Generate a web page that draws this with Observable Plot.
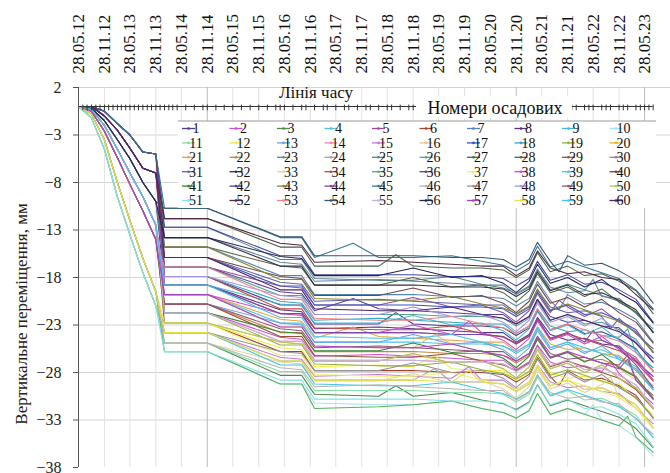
<!DOCTYPE html>
<html><head><meta charset="utf-8">
<script src="https://cdn.jsdelivr.net/npm/d3@7"></script>
<script src="https://cdn.jsdelivr.net/npm/@observablehq/plot@0.6"></script>
<style>
body{margin:0;background:#fff;}
svg{display:block}
svg text, svg tspan{font-family:'Liberation Serif','Times New Roman',serif !important;}
</style>
</head><body><div id="chart"></div>
<script>
// Measurement dates (key points) shared by all settlement marks
const keyDates = ["2012-05-28","2012-08-28","2012-11-28","2013-02-28","2013-05-28","2013-08-28","2013-11-28","2014-01-28","2014-11-28","2016-04-28","2016-09-28","2016-12-28","2018-03-28","2018-11-28","2019-08-28","2020-03-28","2020-08-28","2020-11-28","2021-02-28","2021-04-28","2021-07-28","2021-11-28","2022-03-28","2022-07-28","2022-11-28","2023-03-28","2023-07-28"];

// Vertical displacement (mm) of settlement marks 1..60 at keyDates
const seriesValues = [
[0,0,-0.5,-1.8,-3.0,-4.8,-5.0,-17.9,-17.9,-20.9,-20.9,-22.9,-22.9,-22.9,-23.1,-23.1,-23.3,-24.1,-23.3,-21.5,-23.5,-22.9,-23.9,-23.7,-24.5,-25.5,-27.9],
[0,-0.3,-2.0,-4.5,-7.0,-9.5,-12.5,-21.7,-21.7,-24.3,-24.5,-26.3,-26.1,-26.3,-26.5,-26.7,-26.7,-27.7,-26.9,-25.1,-26.9,-27.5,-27.3,-27.9,-28.1,-29.7,-31.3],
[0,-0.8,-3.5,-8.0,-12.0,-16.0,-19.5,-24.9,-24.9,-28.3,-28.3,-30.3,-30.5,-30.5,-30.1,-30.9,-31.3,-31.9,-31.1,-29.3,-31.5,-30.9,-31.5,-32.1,-32.7,-33.9,-35.9],
[0,-0.5,-2.6,-5.4,-8.2,-11.0,-14.0,-19.8,-19.8,-22.8,-22.8,-24.8,-24.8,-24.8,-25.0,-25.0,-25.2,-26.0,-25.2,-23.4,-25.4,-24.8,-25.8,-25.6,-26.4,-27.4,-29.8],
[0,0,-1.0,-2.5,-4.4,-6.5,-7.0,-16.9,-16.9,-18.9,-19.1,-20.9,-20.9,-20.1,-21.1,-20.9,-21.7,-22.7,-21.5,-19.7,-21.7,-21.1,-22.1,-21.3,-22.7,-23.7,-25.9],
[0,-0.3,-2.0,-4.5,-7.0,-9.5,-12.5,-22.8,-22.8,-25.8,-25.8,-27.8,-27.8,-27.8,-28.0,-28.0,-28.2,-29.0,-28.2,-26.4,-28.4,-27.8,-28.8,-28.6,-29.4,-30.4,-32.8],
[0,0,-0.5,-1.8,-3.0,-4.8,-5.0,-14.8,-14.8,-17.8,-17.8,-19.8,-19.8,-19.8,-20.0,-20.0,-20.2,-21.0,-20.2,-18.4,-20.4,-19.8,-20.8,-20.6,-21.4,-22.4,-24.8],
[0,-0.2,-1.5,-3.5,-5.5,-8.0,-10.0,-18.8,-18.8,-21.4,-21.6,-23.4,-23.2,-23.4,-23.6,-23.8,-23.8,-24.8,-24.0,-22.2,-24.0,-24.6,-24.4,-25.0,-25.2,-26.8,-28.4],
[0,-0.5,-2.6,-5.4,-8.2,-11.0,-14.0,-18.8,-18.8,-20.8,-21.0,-22.8,-22.8,-22.0,-23.0,-22.8,-23.6,-24.6,-23.4,-21.6,-23.6,-23.0,-24.0,-23.2,-24.6,-25.6,-27.8],
[0,-1.2,-4.5,-9.5,-13.5,-17.5,-21.0,-25.8,-25.8,-29.2,-29.2,-31.2,-31.4,-31.4,-31.0,-31.8,-32.2,-32.8,-32.0,-30.2,-32.4,-31.8,-32.4,-33.0,-33.6,-34.8,-36.8],
[0,-0.8,-3.5,-8.0,-12.0,-16.0,-19.5,-24.9,-24.9,-27.9,-27.9,-29.9,-29.9,-29.9,-30.1,-30.1,-30.3,-31.1,-30.3,-28.5,-30.5,-29.9,-30.9,-30.7,-31.5,-32.5,-34.9],
[0,-1.2,-4.5,-9.5,-13.5,-17.5,-21.0,-22.8,-22.8,-25.4,-25.6,-27.4,-27.2,-27.4,-27.6,-27.8,-27.8,-28.8,-28.0,-26.2,-28.0,-28.6,-28.4,-29.0,-29.2,-30.8,-32.4],
[0,-0.3,-2.0,-4.5,-7.0,-9.5,-12.5,-20.8,-20.8,-22.8,-23.0,-24.8,-24.8,-24.0,-25.0,-24.8,-25.6,-26.6,-25.4,-23.6,-25.6,-25.0,-26.0,-25.2,-26.6,-27.6,-29.8],
[0,-0.5,-2.6,-5.4,-8.2,-11.0,-14.0,-21.7,-21.7,-24.7,-24.7,-26.7,-26.7,-26.7,-26.9,-26.9,-27.1,-27.9,-27.1,-25.3,-27.3,-26.7,-27.7,-27.5,-28.3,-29.3,-31.7],
[0,-0.8,-3.5,-8.0,-12.0,-16.0,-19.5,-23.8,-23.8,-26.4,-26.6,-28.4,-28.2,-28.4,-28.6,-28.8,-28.8,-29.8,-29.0,-27.2,-29.0,-29.6,-29.4,-30.0,-30.2,-31.8,-33.4],
[0,-0.3,-2.0,-4.5,-7.0,-9.5,-12.5,-19.8,-19.8,-23.2,-23.2,-25.2,-25.4,-25.4,-25.0,-25.8,-26.2,-26.8,-26.0,-24.2,-26.4,-25.8,-26.4,-27.0,-27.6,-28.8,-30.8],
[0,0,-1.0,-2.5,-4.4,-6.5,-7.0,-15.9,-15.9,-18.9,-18.9,-20.9,-20.9,-20.9,-21.1,-21.1,-21.3,-22.1,-21.3,-19.5,-21.5,-20.9,-21.9,-21.7,-22.5,-23.5,-25.9],
[0,-0.5,-2.6,-5.4,-8.2,-11.0,-14.0,-17.9,-17.9,-20.5,-20.7,-22.5,-22.3,-22.5,-22.7,-22.9,-22.9,-23.9,-23.1,-21.3,-23.1,-23.7,-23.5,-24.1,-24.3,-25.9,-27.5],
[0,-0.3,-2.0,-4.5,-7.0,-9.5,-12.5,-21.7,-21.7,-25.1,-25.1,-27.1,-27.3,-27.3,-26.9,-27.7,-28.1,-28.7,-27.9,-26.1,-28.3,-27.7,-28.3,-28.9,-29.5,-30.7,-32.7],
[0,-0.8,-3.5,-8.0,-12.0,-16.0,-19.5,-22.8,-22.8,-24.8,-25.0,-26.8,-26.8,-26.0,-27.0,-26.8,-27.6,-28.6,-27.4,-25.6,-27.6,-27.0,-28.0,-27.2,-28.6,-29.6,-31.8],
[0,-0.5,-2.6,-5.4,-8.2,-11.0,-14.0,-19.8,-19.8,-22.4,-22.6,-24.4,-24.2,-24.4,-24.6,-24.8,-24.8,-25.8,-25.0,-23.2,-25.0,-25.6,-25.4,-26.0,-26.2,-27.8,-29.4],
[0,-0.3,-2.0,-4.5,-7.0,-9.5,-12.5,-20.8,-20.8,-23.8,-23.8,-25.8,-25.8,-25.8,-26.0,-26.0,-26.2,-27.0,-26.2,-24.4,-26.4,-25.8,-26.8,-26.6,-27.4,-28.4,-30.8],
[0,0,-0.5,-1.8,-3.0,-4.8,-5.0,-13.8,-13.8,-16.4,-16.6,-18.4,-18.2,-18.4,-18.6,-18.8,-18.8,-19.8,-19.0,-17.2,-19.0,-19.6,-19.4,-20.0,-20.2,-21.8,-23.4],
[0,-1.2,-4.5,-9.5,-13.5,-17.5,-21.0,-23.8,-23.8,-26.8,-26.8,-28.8,-28.8,-28.8,-29.0,-29.0,-29.2,-30.0,-29.2,-27.4,-29.4,-28.8,-29.8,-29.6,-30.4,-31.4,-33.8],
[0,0,-1.0,-2.5,-4.4,-6.5,-7.0,-12.7,-12.7,-16.1,-16.1,-18.1,-18.3,-18.3,-17.9,-18.7,-19.1,-19.7,-18.9,-17.1,-19.3,-18.7,-19.3,-19.9,-20.5,-21.7,-23.7],
[0,-0.2,-1.5,-3.5,-5.5,-8.0,-10.0,-16.9,-16.9,-19.9,-19.9,-21.9,-21.9,-21.9,-22.1,-22.1,-22.3,-23.1,-22.3,-20.5,-22.5,-21.9,-22.9,-22.7,-23.5,-24.5,-26.9],
[0,0,-0.5,-1.8,-3.0,-4.8,-5.0,-11.8,-11.8,-14.8,-14.8,-16.8,-16.8,-16.8,-17.0,-17.0,-17.2,-18.0,-17.2,-15.4,-17.4,-16.8,-17.8,-17.6,-18.4,-19.4,-21.8],
[0,0,-1.0,-2.5,-4.4,-6.5,-7.0,-14.8,-14.8,-16.8,-17.0,-18.8,-18.8,-18.0,-19.0,-18.8,-19.6,-20.6,-19.4,-17.6,-19.6,-19.0,-20.0,-19.2,-20.6,-21.6,-23.8],
[0,-0.5,-2.6,-5.4,-8.2,-11.0,-14.0,-20.8,-20.8,-24.2,-24.2,-26.2,-26.4,-26.4,-26.0,-26.8,-27.2,-27.8,-27.0,-25.2,-27.4,-26.8,-27.4,-28.0,-28.6,-29.8,-31.8],
[0,-0.3,-2.0,-4.5,-7.0,-9.5,-12.5,-18.8,-18.8,-21.8,-21.8,-23.8,-23.8,-23.8,-24.0,-24.0,-24.2,-25.0,-24.2,-22.4,-24.4,-23.8,-24.8,-24.6,-25.4,-26.4,-28.8],
[0,-0.2,-1.5,-3.5,-5.5,-8.0,-10.0,-15.9,-15.9,-18.5,-18.7,-20.5,-20.3,-20.5,-20.7,-20.9,-20.9,-21.9,-21.1,-19.3,-21.1,-21.7,-21.5,-22.1,-22.3,-23.9,-25.5],
[0,0,-1.0,-2.5,-4.4,-6.5,-7.0,-13.8,-13.8,-16.8,-16.8,-18.8,-18.8,-18.8,-19.0,-19.0,-19.2,-20.0,-19.2,-17.4,-19.4,-18.8,-19.8,-19.6,-20.4,-21.4,-23.8],
[0,-1.2,-4.5,-9.5,-13.5,-17.5,-21.0,-24.9,-24.9,-26.9,-27.1,-28.9,-28.9,-28.1,-29.1,-28.9,-29.7,-30.7,-29.5,-27.7,-29.7,-29.1,-30.1,-29.3,-30.7,-31.7,-33.9],
[0,0,-0.5,-1.8,-3.0,-4.8,-5.0,-17.9,-17.9,-21.3,-21.3,-23.3,-23.5,-23.5,-23.1,-23.9,-24.3,-24.9,-24.1,-22.3,-24.5,-23.9,-24.5,-25.1,-25.7,-26.9,-28.9],
[0,-0.8,-3.5,-8.0,-12.0,-16.0,-19.5,-25.8,-25.8,-29.2,-29.2,-31.8,-31.6,-31.4,-31.0,-31.8,-32.2,-32.8,-32.0,-30.2,-32.4,-31.8,-32.4,-33.0,-33.6,-34.8,-36.4],
[0,0,-1.0,-2.5,-4.4,-6.5,-7.0,-16.9,-16.9,-19.5,-19.7,-21.5,-21.3,-21.5,-21.7,-21.9,-21.9,-22.9,-22.1,-20.3,-22.1,-22.7,-22.5,-23.1,-23.3,-24.9,-26.5],
[0,-0.8,-3.5,-8.0,-12.0,-16.0,-19.5,-22.8,-22.8,-26.2,-26.2,-28.2,-28.4,-28.4,-28.0,-28.8,-29.2,-29.8,-29.0,-27.2,-29.4,-28.8,-29.4,-30.0,-30.6,-31.8,-33.8],
[0,-0.3,-2.0,-4.5,-7.0,-9.5,-12.5,-19.8,-19.8,-21.8,-22.0,-23.8,-23.8,-23.0,-24.0,-23.8,-24.6,-25.6,-24.4,-22.6,-24.6,-24.0,-25.0,-24.2,-25.6,-26.6,-28.8],
[0,-1.2,-4.5,-9.5,-13.5,-17.5,-21.0,-23.8,-23.8,-27.2,-27.2,-29.2,-29.4,-29.4,-29.0,-29.8,-30.2,-30.8,-30.0,-28.2,-30.4,-29.8,-30.4,-31.0,-31.6,-32.8,-34.8],
[0,0,-0.5,-1.8,-3.0,-4.8,-5.0,-15.9,-15.9,-17.9,-18.1,-19.9,-19.9,-19.1,-20.1,-19.9,-20.7,-21.7,-20.5,-18.7,-20.7,-20.1,-21.1,-20.3,-21.7,-22.7,-24.9],
[0,-0.5,-2.6,-5.4,-8.2,-11.0,-14.0,-21.7,-21.7,-23.7,-23.9,-25.7,-25.7,-24.9,-25.9,-25.7,-26.5,-27.5,-26.3,-24.5,-26.5,-25.9,-26.9,-26.1,-27.5,-28.5,-30.7],
[0,0,-0.5,-1.8,-3.0,-4.8,-5.0,-12.7,-12.7,-15.7,-15.7,-17.7,-17.7,-17.7,-17.9,-17.9,-18.1,-18.9,-18.1,-16.3,-18.3,-17.7,-18.7,-18.5,-19.3,-20.3,-22.7],
[0,-0.2,-1.5,-3.5,-5.5,-8.0,-10.0,-14.8,-14.8,-18.2,-18.2,-20.2,-20.4,-20.4,-20.0,-20.8,-21.2,-21.8,-21.0,-19.2,-21.4,-20.8,-21.4,-22.0,-22.6,-23.8,-25.8],
[0,0,-1.0,-2.5,-4.4,-6.5,-7.0,-18.8,-18.8,-21.8,-21.8,-23.8,-23.8,-23.8,-24.0,-24.0,-24.2,-25.0,-24.2,-22.4,-24.4,-23.8,-24.8,-24.6,-25.4,-27.2,-29.6],
[0,0,-0.5,-1.8,-3.0,-4.8,-5.0,-10.7,-10.7,-13.8,-13.8,-15.9,-15.9,-15.9,-15.7,-16.3,-16.7,-17.3,-16.5,-14.7,-16.9,-16.3,-16.9,-17.5,-18.1,-19.3,-21.3],
[0,-0.8,-3.5,-8.0,-12.0,-16.0,-19.5,-24.9,-24.9,-27.5,-27.7,-29.5,-29.3,-29.5,-29.7,-29.9,-29.9,-30.9,-30.1,-28.3,-30.1,-30.7,-30.5,-31.1,-31.3,-32.9,-34.5],
[0,-0.8,-3.5,-8.0,-12.0,-16.0,-19.5,-23.8,-23.8,-25.8,-26.0,-27.8,-27.8,-27.0,-28.0,-27.8,-28.6,-29.6,-28.4,-26.6,-28.6,-28.0,-29.0,-28.2,-29.6,-30.6,-32.8],
[0,-0.3,-2.0,-4.5,-7.0,-9.5,-12.5,-17.9,-17.9,-19.9,-20.1,-21.9,-21.9,-21.1,-22.1,-21.9,-22.7,-23.7,-22.5,-20.7,-22.7,-22.1,-23.1,-22.3,-23.7,-24.7,-26.9],
[0,-0.5,-2.6,-5.4,-8.2,-11.0,-14.0,-20.8,-20.8,-23.4,-23.6,-25.4,-25.2,-25.4,-25.6,-25.8,-25.8,-26.8,-26.0,-24.2,-26.0,-26.6,-26.4,-27.0,-27.2,-28.8,-30.4],
[0,-1.2,-4.5,-9.5,-13.5,-17.5,-21.0,-22.8,-22.8,-24.8,-25.0,-26.8,-26.8,-26.0,-27.0,-26.8,-27.6,-28.6,-27.4,-25.6,-27.6,-27.0,-28.0,-27.2,-28.6,-29.6,-31.8],
[0,-1.2,-4.5,-9.5,-13.5,-17.5,-21.0,-25.8,-25.8,-28.8,-28.8,-30.8,-30.8,-30.8,-31.0,-31.0,-31.2,-32.0,-31.2,-29.4,-31.4,-30.8,-31.8,-31.6,-32.4,-33.4,-35.8],
[0,0,-1.0,-2.5,-4.4,-6.5,-7.0,-11.8,-11.8,-14.4,-14.6,-16.4,-16.2,-16.4,-16.6,-16.8,-16.8,-17.8,-17.0,-15.2,-17.0,-17.6,-17.4,-18.0,-18.2,-19.8,-21.4],
[0,-0.5,-2.6,-5.4,-8.2,-11.0,-14.0,-16.9,-16.9,-20.3,-20.3,-22.3,-22.5,-22.5,-22.1,-22.9,-23.3,-23.9,-23.1,-21.3,-23.5,-22.9,-23.5,-24.1,-24.7,-25.9,-27.9],
[0,-0.2,-1.5,-3.5,-5.5,-8.0,-10.0,-10.7,-10.7,-13.7,-13.7,-15.7,-15.7,-15.7,-15.9,-15.9,-16.1,-16.9,-16.1,-14.3,-16.3,-15.7,-16.7,-16.5,-17.3,-18.3,-20.7],
[0,-0.3,-2.0,-4.5,-7.0,-9.5,-12.5,-21.7,-21.7,-24.7,-24.7,-26.7,-26.7,-26.7,-26.9,-26.9,-27.1,-27.9,-27.1,-25.3,-27.3,-26.7,-27.7,-27.5,-28.3,-29.3,-31.7],
[0,-0.2,-1.5,-3.5,-5.5,-8.0,-10.0,-13.8,-13.8,-15.8,-16.0,-17.8,-17.8,-17.0,-18.0,-17.8,-18.6,-19.6,-18.4,-16.6,-18.6,-18.0,-19.0,-18.2,-19.6,-20.6,-22.8],
[0,-0.5,-2.6,-5.4,-8.2,-11.0,-14.0,-19.8,-19.8,-23.2,-23.2,-25.2,-25.4,-25.4,-25.0,-25.8,-26.2,-26.8,-26.0,-24.2,-26.4,-25.8,-26.4,-27.0,-27.6,-28.8,-30.8],
[0,-0.8,-3.5,-8.0,-12.0,-16.0,-19.5,-23.8,-23.8,-26.8,-26.8,-28.8,-28.8,-28.8,-29.0,-29.0,-29.2,-30.0,-29.2,-27.4,-29.4,-28.8,-29.8,-29.6,-30.4,-31.4,-33.8],
[0,-0.3,-2.0,-4.5,-7.0,-9.5,-12.5,-18.8,-18.8,-22.2,-22.2,-24.2,-24.4,-24.4,-24.0,-24.8,-25.2,-25.8,-25.0,-23.2,-25.4,-24.8,-25.4,-26.0,-26.6,-27.8,-29.8],
[0,0,-1.0,-2.5,-4.4,-6.5,-7.0,-15.9,-15.9,-19.3,-19.3,-21.3,-21.5,-21.5,-21.1,-21.9,-22.3,-22.9,-22.1,-20.3,-22.5,-21.9,-22.5,-23.1,-23.7,-24.9,-26.9]
];

// Additional single measurements (mark number, date, value) that break the plateaus
const extraMarks = ["45","27","1","3","36","21","12","24","16","38","15","58","54","7","6","10","44","23","33","2","31","49","57","35","18","5"];
const extraDates = ["2017-09-28","2018-07-28","2018-07-28","2018-07-28","2017-09-28","2017-09-28","2019-04-28","2019-04-28","2019-04-28","2019-12-28","2019-12-28","2019-12-28","2021-09-28","2021-09-28","2021-09-28","2022-05-28","2022-05-28","2022-05-28","2022-09-28","2022-09-28","2022-09-28","2023-01-28","2023-01-28","2023-01-28","2023-01-28","2021-09-28"];
const extraValues = [-14.4,-15.6,-21.7,-29.4,-20.2,-23.2,-26.2,-27.6,-24.0,-22.6,-27.4,-27.8,-17.4,-21.4,-29.4,-31.4,-23.6,-18.2,-28.4,-26.8,-23.4,-26.2,-26.6,-32.6,-23.4,-20.4];

const seriesNames = d3.range(1, 61).map(String);
const seriesColors = ["#4a3c8c","#cc4fcc","#4e8a4e","#4cc4e4","#9a4a9a","#a4442e","#5484b4","#53347f","#40b8d8","#a6e2f0",
"#84e0a4","#eeee44","#64a4e4","#f088b4","#c478e0","#f0c488","#3454c0","#34a4c4","#94b034","#e4b434",
"#e4a444","#c48444","#6484a4","#a4a4a4","#548484","#54a494","#446444","#546444","#945434","#a47494",
"#6464a4","#303040","#e4d494","#c44444","#54b454","#5444a4","#f0f064","#d444d4","#44c4e4","#744444",
"#348434","#4444a4","#848434","#8444a4","#347494","#b4b4b4","#949494","#a494e4","#945474","#b4c464",
"#84e4e4","#542444","#f08484","#345474","#c4b4e4","#242454","#a444c4","#e4e444","#44c4e4","#542464"];

const xTickLabels = ["28.05.12","28.11.12","28.05.13","28.11.13","28.05.14","28.11.14","28.05.15","28.11.15","28.05.16","28.11.16","28.05.17","28.11.17","28.05.18","28.11.18","28.05.19","28.11.19","28.05.20","28.11.20","28.05.21","28.11.21","28.05.22","28.11.22","28.05.23"];
const yTicks = [2,-3,-8,-13,-18,-23,-28,-33,-38];

// "Лінія часу": all measurement dates, shown as ticks on the zero line
const timelineMonths = "2012-06 2012-07 2012-08 2012-09 2012-10 2012-11 2012-12 2013-01 2013-02 2013-03 2013-04 2013-05 2013-06 2013-07 2013-08 2013-09 2013-10 2013-11 2013-12 2014-01 2014-02 2014-03 2014-04 2014-06 2014-08 2014-10 2014-11 2015-01 2015-03 2015-05 2015-07 2015-09 2015-11 2016-01 2016-03 2016-04 2016-05 2016-07 2016-09 2016-10 2016-12 2017-02 2017-03 2017-05 2017-07 2017-08 2017-10 2017-12 2018-01 2018-03 2018-05 2018-06 2018-08 2018-10 2018-11 2019-01 2019-03 2019-04 2019-06 2019-08 2019-09 2019-11 2020-01 2020-02 2020-04 2020-06 2020-07 2020-08 2020-10 2020-11 2020-12 2021-01 2021-03 2021-04 2021-05 2021-07 2021-08 2021-09 2021-11 2021-12 2022-01 2022-03 2022-04 2022-05 2022-07 2022-08 2022-09 2022-11 2022-12 2023-01 2023-03 2023-04 2023-05 2023-06 2023-07".split(" ");

const parseLabel = s => { const [d,m,y] = s.split("."); return new Date(Date.UTC(2000 + +y, +m - 1, +d)); };
const tickDates = xTickLabels.map(parseLabel);
const tlDates = timelineMonths.map(s => new Date(s + "-28T00:00:00Z"));
const kd = keyDates.map(s => new Date(s + "T00:00:00Z"));

let rows = [];
seriesValues.forEach((vals, i) => vals.forEach((v, j) => rows.push({name: seriesNames[i], idx: i, date: kd[j], value: v})));
extraMarks.forEach((n, k) => rows.push({name: n, idx: +n - 1, date: new Date(extraDates[k] + "T00:00:00Z"), value: extraValues[k]}));
rows.sort((a, b) => a.idx - b.idx || a.date - b.date);

const x0 = new Date("2012-05-28T00:00:00Z"), x1 = new Date("2023-11-28T00:00:00Z");
const darkGrid = ["28.11.14","28.11.20","28.05.23"];
const font = "'Liberation Serif', 'Times New Roman', serif";

const chart = Plot.plot({
  width: 670, height: 473,
  marginLeft: 78, marginRight: 0, marginTop: 87, marginBottom: 6,
  x: {type: "utc", domain: [x0, x1], axis: null},
  y: {domain: [-38, 2], axis: null},
  color: {domain: seriesNames, range: seriesColors},
  style: {fontFamily: font, background: "#fff", color: "#222"},
  marks: [
    Plot.ruleY(yTicks.filter(t => t !== -38), {stroke: "#d4d4d4"}),
    Plot.ruleX(tickDates.slice(1), {stroke: (d, i) => darkGrid.includes(xTickLabels[i + 1]) ? "#bdbdbd" : "#e2e2e2", y1: -38, y2: 2}),
    Plot.line(rows, {x: "date", y: "value", z: "name", stroke: "name", strokeWidth: 1.05}),
    Plot.ruleY([0], {x1: x0, x2: tlDates[tlDates.length - 1], stroke: "#333", strokeWidth: 1.2}),
    Plot.ruleX(tlDates, {y1: 0.15, y2: -0.45, stroke: "#333", strokeWidth: 1}),
    Plot.ruleX([x0], {y1: -38, y2: 2, stroke: "#555"}),
    Plot.axisY(yTicks, {label: null, tickSize: 5, tickPadding: 12, fontSize: 16, stroke: "#555", fill: "#222"}),
    Plot.text(tickDates, {x: d => d, text: (d, i) => xTickLabels[i], frameAnchor: "top", rotate: -90, textAnchor: "start", lineAnchor: "middle", dy: -14, fontSize: 17, fill: "#111"})
  ]
});
document.getElementById("chart").appendChild(chart);

// Overlay boxes and legend inside the plot frame
const svg = d3.select(chart);
svg.append("text").attr("x", 316).attr("y", 98).attr("text-anchor", "middle")
  .attr("font-size", 17).attr("fill", "#111").text("Лінія часу");
svg.append("rect").attr("x", 416).attr("y", 96).attr("width", 156).attr("height", 22).attr("fill", "#fff");
svg.append("text").attr("x", 495).attr("y", 114).attr("text-anchor", "middle")
  .attr("font-size", 18).attr("fill", "#111").text("Номери осадових");
const lg = svg.append("g");
lg.append("rect").attr("x", 178).attr("y", 121).attr("width", 478).attr("height", 87).attr("fill", "#fff");
lg.append("line").attr("x1", 178).attr("x2", 656).attr("y1", 121).attr("y2", 121).attr("stroke", "#999").attr("stroke-width", 1.2);
seriesNames.forEach((n, i) => {
  const r = Math.floor(i / 10), c = i % 10;
  const x = 182 + c * 47.5, y = 128.5 + r * 14.4;
  lg.append("line").attr("x1", x).attr("x2", x + 13).attr("y1", y).attr("y2", y).attr("stroke", seriesColors[i]).attr("stroke-width", 1.3);
  lg.append("circle").attr("cx", x + 6.5).attr("cy", y).attr("r", 1.3).attr("fill", seriesColors[i]);
  lg.append("text").attr("x", x + 14).attr("y", y).attr("dy", "0.35em")
    .attr("font-size", 14).attr("fill", "#111").text(n);
});
svg.append("text").attr("transform", "translate(21,314) rotate(-90)").attr("text-anchor", "middle")
  .attr("dy", "0.35em").attr("font-size", 17).attr("fill", "#222")
  .text("Вертикальне переміщення, мм");
</script>
</body></html>
